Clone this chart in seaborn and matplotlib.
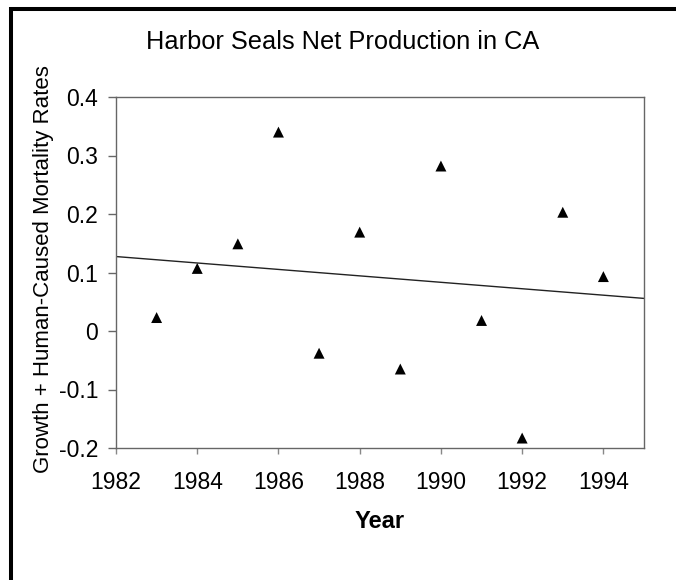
import matplotlib
matplotlib.use("Agg")
import matplotlib.pyplot as plt
from matplotlib.lines import Line2D
import numpy as np
import pandas as pd
import seaborn as sns

years = [1983, 1984, 1985, 1986, 1987, 1988, 1989, 1990, 1991, 1992, 1993, 1994]
rates = [0.023, 0.107, 0.149, 0.340, -0.038, 0.169, -0.065, 0.282, 0.018, -0.183, 0.203, 0.093]
x_ticks = [1982, 1984, 1986, 1988, 1990, 1992, 1994]
y_ticks = [-0.2, -0.1, 0.0, 0.1, 0.2, 0.3, 0.4]
y_tick_labels = ["-0.2", "-0.1", "0", "0.1", "0.2", "0.3", "0.4"]

df = pd.DataFrame({"Year": years, "Rate": rates})

sns.set_style("white")
plt.rcParams["font.family"] = ["Liberation Sans", "DejaVu Sans"]
plt.rcParams["text.color"] = "black"
plt.rcParams["axes.labelcolor"] = "black"

W, H = 676, 580
fig = plt.figure(figsize=(W / 100, H / 100), dpi=100)
ax = fig.add_axes([116 / W, 1 - 448 / H, (644 - 116) / W, (448 - 97) / H])

ax.set_xlim(1982, 1995)
ax.set_ylim(-0.2, 0.4)

sns.regplot(data=df, x="Year", y="Rate", ax=ax, scatter=False, ci=None,
            truncate=False, line_kws={"color": "#222222", "lw": 1.0})
sns.scatterplot(data=df, x="Year", y="Rate", ax=ax, marker="^", s=62,
                color="black", edgecolor="none", linewidth=0)

ax.set_xlim(1982, 1995)
ax.set_ylim(-0.2, 0.4)
ax.set_xticks(x_ticks)
ax.set_xticklabels([str(t) for t in x_ticks])
ax.set_yticks(y_ticks)
ax.set_yticklabels(y_tick_labels)

for sp in ax.spines.values():
    sp.set_visible(True)
    sp.set_color("#666666")
    sp.set_linewidth(1.0)

ax.tick_params(axis="y", direction="out", length=5.8, width=1, color="#666666",
               labelcolor="black", labelsize=16.5, pad=7, left=True)
ax.tick_params(axis="x", direction="out", length=4.3, width=1, color="#888888",
               labelcolor="black", labelsize=16.5, pad=12, bottom=True)

ax.set_xlabel("Year", fontsize=17, fontweight="bold", va="center", color="black")
ax.xaxis.set_label_coords(0.5, (448 - 522) / 351)
ax.set_ylabel("Growth + Human-Caused Mortality Rates", fontsize=16, va="center",
              color="black")
ax.yaxis.set_label_coords((44 - 116) / 528, 0.51)

fig.text(343 / W, 1 - 42 / H, "Harbor Seals Net Production in CA",
         ha="center", va="center", fontsize=18.3, color="black")

fig.add_artist(Line2D([9.5 / W, 1], [1 - 8.7 / H] * 2, transform=fig.transFigure,
                      color="black", lw=2.9, solid_capstyle="butt"))
fig.add_artist(Line2D([11.3 / W] * 2, [0, 1 - 6.7 / H], transform=fig.transFigure,
                      color="black", lw=2.9, solid_capstyle="butt"))

fig.savefig("out.png", dpi=100)
